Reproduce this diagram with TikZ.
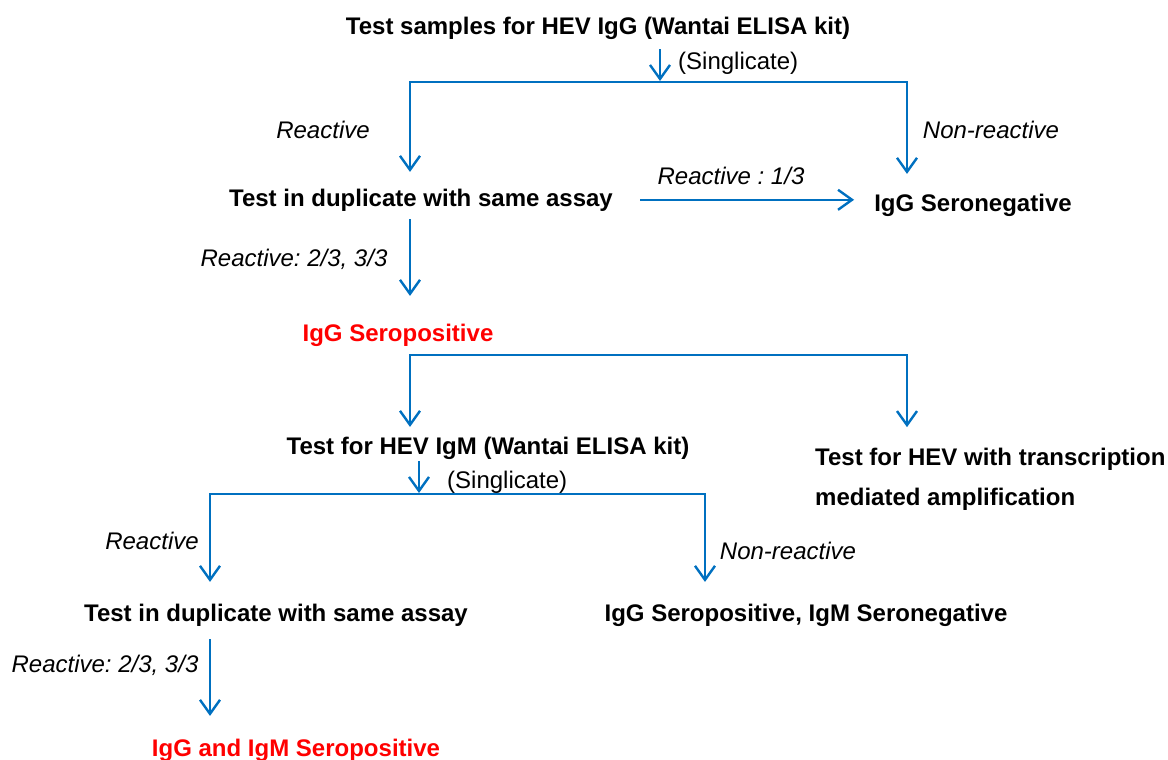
\documentclass[tikz,border=0pt]{standalone}
\usepackage{fontspec}
\setmainfont{Liberation Sans}
\usetikzlibrary{arrows.meta, positioning}
\definecolor{flow}{RGB}{0,112,192}
\definecolor{sero}{RGB}{255,0,0}
\frenchspacing

\begin{document}
\begin{tikzpicture}[
    x=1pt, y=-1pt,
    box/.style={font=\fontsize{24}{28}\selectfont\bfseries, inner sep=0pt, anchor=base},
    result/.style={box, text=sero},
    cond/.style={font=\fontsize{24}{28}\selectfont\itshape, inner sep=0pt, anchor=base},
    note/.style={font=\fontsize{24}{28}\selectfont, inner sep=0pt, anchor=base west},
    line/.style={line width=2.4pt, draw=flow},
    arrow/.style={line, -{Straight Barb[length=14pt, width=20pt]}},
    fork/.style={line, {Straight Barb[length=14pt, width=20pt]}-{Straight Barb[length=14pt, width=20pt]}}
]
\useasboundingbox (0,0) rectangle (1168,760);

% IgG testing
\node[box] (igg) at (598,35) {Test samples for HEV IgG (Wantai ELISA kit)};
\node[note] (single1) at (678,70) {(Singlicate)};
\coordinate (split1) at (660,82);
\coordinate (left1) at (410,82);
\coordinate (right1) at (907,82);
\draw[arrow, shorten <=9pt, shorten >=1pt] (igg.south -| split1) -- (split1);

\node[box] (dup1) at (421,206) {Test in duplicate with same assay};
\node[box] (neg1) at (973,211) {IgG Seronegative};
\node[result] (pos1) at (398,341) {IgG Seropositive};

\draw[fork, shorten <=16.5pt, shorten >=19.5pt] (left1 |- dup1.north) -- (left1) -- (right1) -- (right1 |- neg1.north);
\node[cond] (react1) at (323,139) {Reactive};
\node[cond] (nonreact1) at (991,139) {Non-reactive};

\draw[arrow, shorten <=27pt, shorten >=20pt] (dup1.east) -- (dup1.east -| neg1.west);
\node[cond] (third1) at (731,184) {Reactive : 1/3};

\draw[arrow, shorten <=8pt, shorten >=27.5pt] (dup1.south -| left1) -- (left1 |- pos1.north);
\node[cond] (twothird1) at (294,266) {Reactive: 2/3, 3/3};

% IgM testing
\coordinate (left2) at (410,355);
\coordinate (right2) at (907,355);
\node[box] (igm) at (488,454) {Test for HEV IgM (Wantai ELISA kit)};
\node[box, anchor=west, align=left, font=\fontsize{24}{40}\selectfont\bfseries] (tma) at (815,479)
    {Test for HEV with transcription\\mediated amplification};
\draw[fork, shorten <=9.5pt, shorten >=20.5pt] (left2 |- igm.north) -- (left2) -- (right2) -- (right2 |- tma.north);

\node[note] (single2) at (447,488) {(Singlicate)};
\coordinate (split2) at (419,494);
\coordinate (left3) at (210,494);
\coordinate (right3) at (705,494);
\draw[arrow, shorten <=2pt, shorten >=1pt] (igm.south -| split2) -- (split2);

\node[box] (dup2) at (276,621) {Test in duplicate with same assay};
\node[box] (posneg) at (806,621) {IgG Seropositive, IgM Seronegative};
\node[result] (pos2) at (296,756) {IgG and IgM Seropositive};

\draw[fork, shorten <=21.5pt, shorten >=21.5pt] (left3 |- dup2.north) -- (left3) -- (right3) -- (right3 |- posneg.north);
\node[cond] (react2) at (152,549) {Reactive};
\node[cond] (nonreact2) at (788,559) {Non-reactive};

\draw[arrow, shorten <=13pt, shorten >=22.5pt] (dup2.south -| left3) -- (left3 |- pos2.north);
\node[cond] (twothird2) at (105,672) {Reactive: 2/3, 3/3};
\end{tikzpicture}
\end{document}
